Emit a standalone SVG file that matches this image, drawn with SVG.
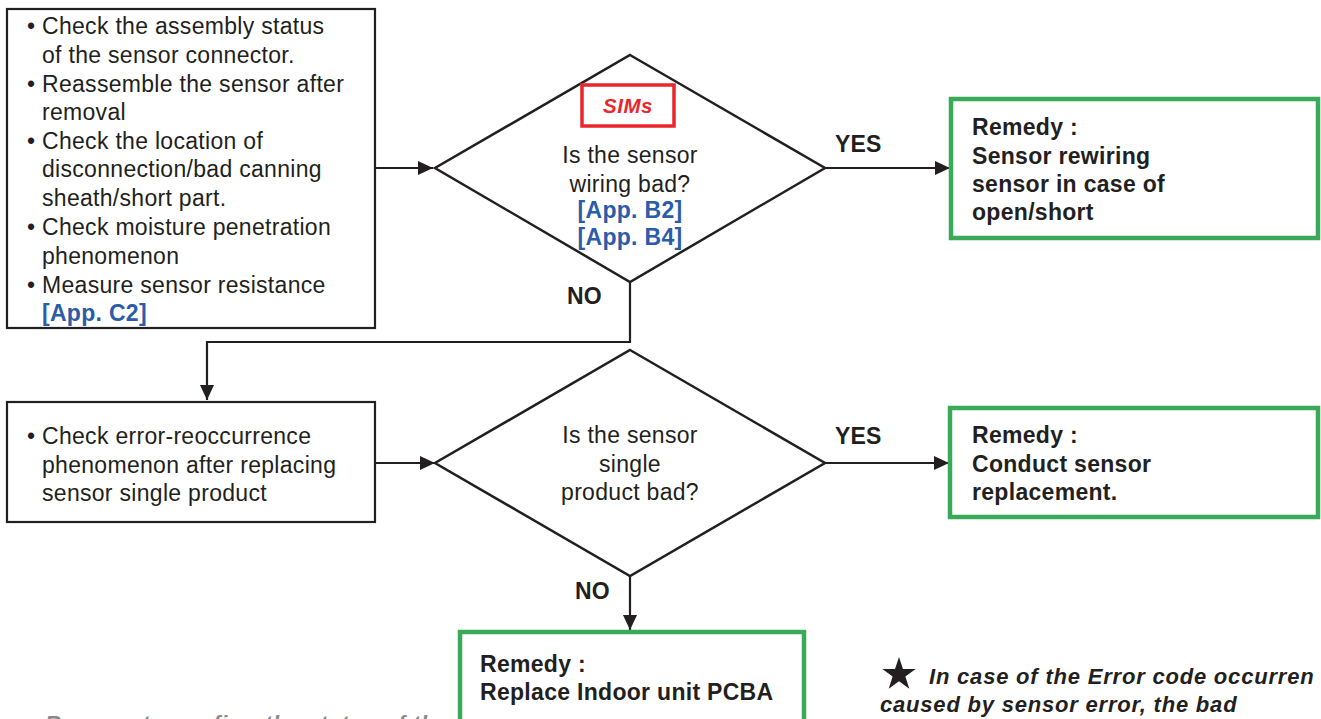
<svg xmlns="http://www.w3.org/2000/svg" width="1321" height="719" viewBox="0 0 1321 719">
<style>
.t{font-family:"Liberation Sans",Arial,sans-serif;font-size:23px;fill:#231f20;letter-spacing:0.3px}
.b{font-weight:bold}
.blue{fill:#2b5ca9;font-weight:bold}
.c{text-anchor:middle}
.box{fill:#fff;stroke:#231f20;stroke-width:2.2}
.dia{fill:#fff;stroke:#231f20;stroke-width:2.5}
.grn{fill:#fff;stroke:#3aaa58;stroke-width:4.5}
.ln{fill:none;stroke:#231f20;stroke-width:2.2}
.lbl{font-family:"Liberation Sans",Arial,sans-serif;font-size:23px;font-weight:bold;fill:#231f20;letter-spacing:0.2px}
.note{font-family:"Liberation Sans",Arial,sans-serif;font-size:22px;font-weight:bold;font-style:italic;letter-spacing:0.8px}
</style>
<defs>
<marker id="ah" markerUnits="userSpaceOnUse" markerWidth="16" markerHeight="14" refX="15" refY="7" orient="auto">
<path d="M0,0 L15,7 L0,14 Z" fill="#231f20"/>
</marker>
</defs>

<g id="connectors">
<path class="ln" d="M375,168 H433" marker-end="url(#ah)"/>
<path class="ln" d="M825,168 H950" marker-end="url(#ah)"/>
<path class="ln" d="M630,282 V342 H207 V400" marker-end="url(#ah)"/>
<path class="ln" d="M375,463 H435" marker-end="url(#ah)"/>
<path class="ln" d="M825,463 H949" marker-end="url(#ah)"/>
<path class="ln" d="M630,576 V630" marker-end="url(#ah)"/>
</g>

<g id="labels">
<text class="lbl" x="835" y="152">YES</text>
<text class="lbl" x="567" y="304">NO</text>
<text class="lbl" x="835" y="444">YES</text>
<text class="lbl" x="575" y="599">NO</text>
</g>

<g id="box1">
<rect class="box" x="7" y="9" width="368" height="319"/>
<text class="t"><tspan x="27" y="34">•</tspan><tspan x="42" y="34">Check the assembly status</tspan><tspan x="42" y="63">of the sensor connector.</tspan><tspan x="27" y="92">•</tspan><tspan x="42" y="92">Reassemble the sensor after</tspan><tspan x="42" y="120">removal</tspan><tspan x="27" y="149">•</tspan><tspan x="42" y="149">Check the location of</tspan><tspan x="42" y="177">disconnection/bad canning</tspan><tspan x="42" y="206">sheath/short part.</tspan><tspan x="27" y="235">•</tspan><tspan x="42" y="235">Check moisture penetration</tspan><tspan x="42" y="264">phenomenon</tspan><tspan x="27" y="293">•</tspan><tspan x="42" y="293">Measure sensor resistance</tspan></text>
<text class="t blue" x="42" y="321">[App. C2]</text>
</g>

<g id="decision1">
<polygon class="dia" points="630,55 825,168 630,282 435,168"/>
<rect x="582" y="85" width="92" height="41" fill="#fff" stroke="#e8262b" stroke-width="3.5"/>
<text x="628" y="113" text-anchor="middle" font-family="'Liberation Sans',Arial,sans-serif" font-size="20.5" font-weight="bold" font-style="italic" fill="#e8262b" letter-spacing="0.5">SIMs</text>
<text class="t c" x="630" y="163">Is the sensor</text>
<text class="t c" x="630" y="192">wiring bad?</text>
<text class="t c blue" x="630" y="218">[App. B2]</text>
<text class="t c blue" x="630" y="245">[App. B4]</text>
</g>

<g id="remedy1">
<rect class="grn" x="951" y="99" width="367" height="139"/>
<text class="t b"><tspan x="972" y="135">Remedy :</tspan><tspan x="972" y="164">Sensor rewiring</tspan><tspan x="972" y="192">sensor in case of</tspan><tspan x="972" y="220">open/short</tspan></text>
</g>

<g id="box2">
<rect class="box" x="7" y="402" width="368" height="120"/>
<text class="t"><tspan x="27" y="444">•</tspan><tspan x="42" y="444">Check error-reoccurrence</tspan><tspan x="42" y="473">phenomenon after replacing</tspan><tspan x="42" y="501">sensor single product</tspan></text>
</g>

<g id="decision2">
<polygon class="dia" points="630,350 825,463 630,576 435,463"/>
<text class="t c" x="630" y="443">Is the sensor</text>
<text class="t c" x="630" y="472">single</text>
<text class="t c" x="630" y="500">product bad?</text>
</g>

<g id="remedy2">
<rect class="grn" x="950" y="408" width="368" height="109"/>
<text class="t b"><tspan x="972" y="443">Remedy :</tspan><tspan x="972" y="472">Conduct sensor</tspan><tspan x="972" y="500">replacement.</tspan></text>
</g>

<g id="remedy3">
<rect class="grn" x="460" y="632" width="344" height="110"/>
<text class="t b"><tspan x="480" y="672">Remedy :</tspan><tspan x="480" y="700">Replace Indoor unit PCBA</tspan></text>
</g>

<g id="note">
<polygon points="899,657 902.94,669.08 915.64,669.09 905.37,676.57 909.29,688.66 899,681.2 888.71,688.66 892.63,676.57 882.36,669.09 895.06,669.08" fill="#231f20"/>
<text class="note" fill="#231f20" x="929" y="684">In case of the Error code occurren</text>
<text class="note" fill="#231f20" x="880" y="712">caused by sensor error, the bad</text>
</g>

<g id="footer">
<text class="note" fill="#8a8a8a" x="45" y="731">Remove to confirm the status of the</text>
</g>
</svg>
